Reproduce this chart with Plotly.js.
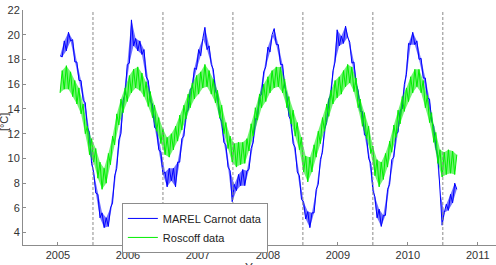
<!DOCTYPE html>
<html>
<head>
<meta charset="utf-8">
<script src="https://cdn.plot.ly/plotly-3.0.1.min.js"></script>
<style>
html,body{margin:0;padding:0;background:#fff;}
#chart{width:496px;height:265px;}
</style>
</head>
<body>
<div id="chart"></div>
<script>
// Sampling grid of the series (decimal years)
const startYear = 2005.03;
const stepYears = 0.03;

// MAREL Carnot data (°C)
const marelCarnot = [
18.3,18.2,19.5,18.7,20.2,19.5,19.6,17.8,17.8,16.3,16.3,14.7,14.5,12.5,12.1,9.6,8.9,7.2,7.1,5.2,
5.6,4.4,5.2,4.5,6.0,6.4,8.6,9.2,11.5,12.0,14.7,15.2,17.6,17.7,21.2,19.1,19.7,18.7,19.5,18.4,
18.8,16.6,16.3,14.6,14.4,12.5,12.4,10.7,10.5,8.7,8.9,7.7,9.2,8.2,9.2,7.7,9.7,9.7,11.6,11.8,
13.7,13.9,15.6,15.7,17.3,17.2,18.8,18.3,19.7,20.6,18.8,19.1,17.6,17.2,15.4,15.2,13.3,13.0,11.3,11.1,
9.3,9.0,6.5,7.9,7.4,8.7,7.8,9.1,7.8,9.0,9.1,10.8,11.3,13.2,13.2,15.0,15.2,17.0,17.4,19.0,
18.6,20.0,20.5,19.2,19.2,17.6,17.6,15.8,15.2,13.4,13.1,11.2,10.9,8.9,8.6,6.7,6.5,5.1,5.7,4.4,
5.6,5.6,7.5,7.9,9.9,10.5,12.4,12.9,14.8,15.1,17.1,17.8,20.4,19.1,19.9,19.3,20.7,19.8,19.4,17.7,
17.8,16.0,15.5,13.8,13.8,11.9,11.8,10.0,9.6,7.4,6.9,5.2,5.9,4.5,5.4,5.4,7.5,7.9,9.9,10.1,
12.0,12.1,13.9,14.0,16.0,16.8,19.3,19.2,20.2,19.2,19.5,18.0,18.1,16.5,16.5,14.9,14.8,13.0,12.6,10.8,
10.2,7.4,4.6,5.6,6.3,5.8,7.1,6.4,8.0,7.5
];

// Roscoff data (°C)
const roscoff = [
15.3,17.1,15.6,17.5,15.6,17.0,15.0,16.3,14.4,15.7,13.6,14.4,12.0,12.6,10.3,11.6,9.7,10.8,8.4,9.7,
7.5,9.2,8.0,10.4,9.5,11.8,11.1,13.6,12.7,14.8,13.7,15.7,14.6,16.7,15.3,17.2,15.7,17.4,15.5,16.9,
15.0,16.2,14.2,15.4,13.3,14.3,12.2,13.3,11.2,12.4,10.3,11.7,10.1,12.0,10.7,12.6,11.4,13.5,12.3,14.3,
13.2,15.2,14.1,16.1,14.8,16.7,15.2,17.0,15.7,17.6,15.8,17.1,15.2,16.4,14.5,15.5,13.3,14.3,12.0,12.9,
10.8,11.8,9.7,11.2,9.3,11.3,9.5,11.3,9.6,11.6,10.6,12.8,11.8,14.1,13.1,15.2,14.1,16.0,14.6,16.6,
15.3,17.1,15.7,17.4,15.8,17.4,15.3,16.4,14.1,15.0,12.8,13.9,11.8,12.9,10.7,11.7,8.9,10.2,8.1,10.1,
8.9,11.1,10.1,12.2,11.2,13.3,12.2,14.4,13.4,15.5,14.4,16.3,14.9,16.6,15.2,17.1,15.8,17.6,16.1,17.4,
15.4,16.5,14.1,14.8,12.6,13.7,11.6,12.6,10.4,11.0,8.6,9.9,7.7,9.7,8.3,10.4,9.3,11.4,10.5,12.7,
11.7,13.9,12.8,15.0,13.8,15.7,14.6,16.6,15.3,17.2,15.8,17.2,15.3,16.3,14.1,15.1,12.9,13.7,11.3,12.1,
9.6,10.7,8.5,10.5,8.7,10.7,8.8,10.6,8.7,10.3
];

// Axis ticks, titles and year separators
const yearTicks = [2005, 2006, 2007, 2008, 2009, 2010, 2011];
const tempTicks = [4, 6, 8, 10, 12, 14, 16, 18, 20, 22];
const yearSeparators = [2005.5, 2006.5, 2007.5, 2008.5, 2009.5, 2010.5];
const xTitle = 'Years';
const yTitle = '[°C]';

function timesOf(arr) { return arr.map((_, i) => startYear + i * stepYears); }

// Noise band of a series: polygon through its high (even) and low (odd) samples
function bandTrace(values, fillColor) {
  const t = timesOf(values);
  const hx = [], hy = [], lx = [], ly = [];
  values.forEach((v, i) => {
    if (i % 2 === 0) { hx.push(t[i]); hy.push(v); } else { lx.push(t[i]); ly.push(v); }
  });
  return {
    x: hx.concat(lx.reverse()), y: hy.concat(ly.reverse()),
    type: 'scatter', mode: 'lines', fill: 'toself', fillcolor: fillColor,
    line: {width: 0}, hoverinfo: 'skip', showlegend: false
  };
}

const traces = [
  bandTrace(marelCarnot, 'rgba(0,0,255,0.55)'),
  {x: timesOf(marelCarnot), y: marelCarnot, type: 'scatter', mode: 'lines',
   name: 'MAREL Carnot data', line: {color: '#0000ff', width: 1}},
  bandTrace(roscoff, 'rgba(0,235,0,0.55)'),
  {x: timesOf(roscoff), y: roscoff, type: 'scatter', mode: 'lines',
   name: 'Roscoff data', line: {color: '#00ee00', width: 1}}
];

const shapes = yearSeparators.map(v => ({
  type: 'line', xref: 'x', yref: 'paper', x0: v, x1: v, y0: 0, y1: 1,
  line: {color: '#8a8a8a', width: 1, dash: '3px,2px'}, layer: 'above'
}));

const axisCommon = {
  showline: true, linecolor: '#8c8c8c', linewidth: 1,
  ticks: 'inside', ticklen: 3, tickcolor: '#8c8c8c', tickwidth: 1,
  showgrid: false, zeroline: false, mirror: false,
  tickfont: {family: 'Liberation Sans, Arial, sans-serif', size: 11, color: '#333'}
};

const layout = {
  width: 496, height: 265,
  margin: {l: 23, r: 0, t: 10, b: 20},
  paper_bgcolor: '#fff', plot_bgcolor: '#fff',
  font: {family: 'Liberation Sans, Arial, sans-serif', size: 11, color: '#333'},
  xaxis: Object.assign({}, axisCommon, {
    range: [2004.5, 2011.26], tickvals: yearTicks, ticktext: yearTicks.map(String)
  }),
  yaxis: Object.assign({}, axisCommon, {
    range: [3, 22], tickvals: tempTicks, ticktext: tempTicks.map(String)
  }),
  annotations: [
    {text: xTitle, xref: 'paper', yref: 'paper', x: 0.5, y: 0,
     xanchor: 'center', yanchor: 'top', yshift: -14, showarrow: false,
     font: {size: 12, color: '#333'}},
    {text: yTitle, xref: 'paper', yref: 'paper', x: 0, y: 0.523,
     xanchor: 'center', yanchor: 'middle', xshift: -19, textangle: -90, showarrow: false,
     font: {size: 11, color: '#333'}}
  ],
  showlegend: true,
  legend: {
    x: 0.209, y: 0.179, xanchor: 'left', yanchor: 'top',
    bgcolor: '#fff', bordercolor: '#8c8c8c', borderwidth: 1,
    font: {size: 11, color: '#222'}, itemwidth: 30, tracegroupgap: 0
  },
  shapes: shapes
};

Plotly.newPlot('chart', traces, layout, {displayModeBar: false, staticPlot: true});
</script>
</body>
</html>
